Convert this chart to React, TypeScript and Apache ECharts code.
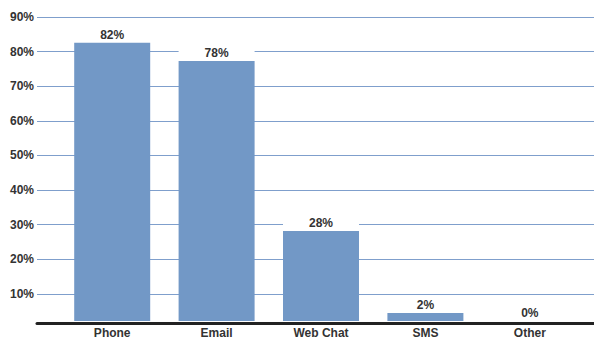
import React, { useEffect, useRef } from "react";
import * as echarts from "echarts";

const categories = ["Phone", "Email", "Web Chat", "SMS", "Other"];
const barValues = [82.5, 77.2, 27.8, 3.9, 0];
const labelTexts = ["82%", "78%", "28%", "2%", "0%"];
const tickValues = [10, 20, 30, 40, 50, 60, 70, 80, 90];

const FONT = "'Liberation Sans', Arial, sans-serif";

export default function App() {
  const ref = useRef<HTMLDivElement>(null);
  useEffect(() => {
    if (!ref.current) return;
    const chart = echarts.init(ref.current, null, { renderer: "svg" });
    const yMin = 1.6;
    const yMax = 90;
    chart.setOption({
      animation: false,
      backgroundColor: "#ffffff",
      grid: [
        { left: 37, right: 0, top: 17, bottom: 16, containLabel: false },
        { left: 60, right: 12, top: 17, bottom: 16, containLabel: false },
      ],
      xAxis: [
        {
          type: "value",
          gridIndex: 0,
          min: 0,
          max: 1,
          axisLine: { show: true, onZero: false, lineStyle: { color: "#222222", width: 3 } },
          axisTick: { show: false },
          axisLabel: { show: false },
          splitLine: { show: false },
        },
        {
          type: "category",
          gridIndex: 1,
          data: categories,
          axisLine: { show: false },
          axisTick: { show: false },
          axisLabel: {
            color: "#333333",
            fontFamily: FONT,
            fontWeight: "bold",
            fontSize: 12,
            margin: 6,
          },
          splitLine: { show: false },
        },
      ],
      yAxis: [
        {
          type: "value",
          gridIndex: 0,
          min: yMin,
          max: yMax,
          axisLine: { show: false },
          axisTick: { show: false, customValues: tickValues },
          axisLabel: {
            customValues: tickValues,
            formatter: (v: number) => `${Math.round(v)}%`,
            color: "#333333",
            fontFamily: FONT,
            fontWeight: "bold",
            fontSize: 12,
            margin: 3,
          },
          splitLine: { show: true, lineStyle: { color: "#7f9fcc", width: 1 } },
        },
        {
          type: "value",
          gridIndex: 1,
          min: yMin,
          max: yMax,
          show: false,
          splitLine: { show: false },
        },
      ],
      series: [
        {
          type: "bar",
          xAxisIndex: 1,
          yAxisIndex: 1,
          data: barValues,
          barWidth: 76,
          itemStyle: { color: "#7298c6" },
          label: { show: false },
        },
        {
          type: "scatter",
          xAxisIndex: 1,
          yAxisIndex: 1,
          data: barValues.map((v) => Math.max(v, yMin)),
          symbolSize: 0,
          itemStyle: { color: "rgba(0,0,0,0)", opacity: 1 },
          emphasis: { disabled: true },
          z: 3,
          label: {
            show: true,
            position: "top",
            distance: 1,
            formatter: (p: any) => labelTexts[p.dataIndex],
            color: "#333333",
            opacity: 1,
            fontFamily: FONT,
            fontWeight: "bold",
            fontSize: 12,
            backgroundColor: "#ffffff",
            width: 76,
            align: "center",
            padding: [2, 0, 1, 0],
          },
        },
      ],
    });
    return () => chart.dispose();
  }, []);
  return (
    <div
      ref={ref}
      style={{ position: "fixed", left: 0, top: 0, width: 594, height: 339 }}
    />
  );
}
